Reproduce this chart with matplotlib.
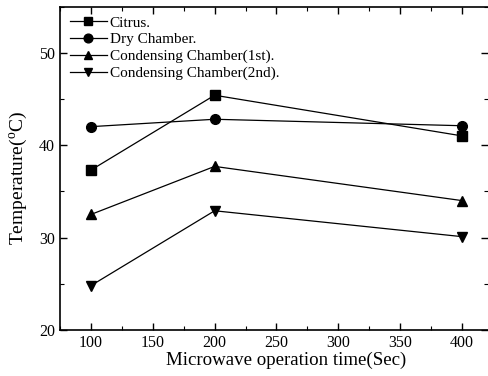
import matplotlib
matplotlib.use("Agg")
import matplotlib.pyplot as plt
from matplotlib.ticker import MultipleLocator

plt.rcParams['font.family'] = ['Liberation Serif', 'DejaVu Serif']
plt.rcParams['mathtext.fontset'] = 'custom'
plt.rcParams['mathtext.rm'] = 'Liberation Serif'

time = [100, 200, 400]
citrus = [37.3, 45.4, 41.0]
dry = [42.0, 42.8, 42.1]
cond1 = [32.5, 37.7, 34.0]
cond2 = [24.8, 32.9, 30.1]

series = [
	(citrus, 's', 'Citrus.'),
	(dry, 'o', 'Dry Chamber.'),
	(cond1, '^', 'Condensing Chamber(1st).'),
	(cond2, 'v', 'Condensing Chamber(2nd).'),
]

fig = plt.figure(figsize=(4.89, 3.76), dpi=100)
ax = fig.add_axes([60/489, 1-330/376, 428/489, 323.5/376])

for vals, m, lab in series:
	ax.plot(time, vals, color='black', lw=0.9, marker=m, markersize=7, label=lab)

ax.set_xlim(75, 421)
ax.set_ylim(20, 55)
ax.xaxis.set_major_locator(MultipleLocator(50))
ax.xaxis.set_minor_locator(MultipleLocator(25))
ax.yaxis.set_major_locator(MultipleLocator(10))
ax.yaxis.set_minor_locator(MultipleLocator(5))
ax.tick_params(which='both', direction='in', top=True, right=True, labelsize=11.5)
ax.tick_params(which='major', length=5, width=1)
ax.tick_params(which='minor', length=3, width=0.8)
for s in ['left', 'bottom', 'top']:
	ax.spines[s].set_linewidth(1.2)
ax.spines['right'].set_visible(False)

ax.set_xlabel("Microwave operation time(Sec)", fontsize=13.6)
ax.set_ylabel(r"Temperature($^\mathrm{o}$C)", fontsize=14)
ax.xaxis.set_label_coords((286.5-60)/428, -(352-330)/323.5)
ax.yaxis.set_label_coords((30-60)/428, (330-177.5)/323.5)

ax.legend(loc='upper left', bbox_to_anchor=((70-60)/428, (330-16)/323.5),
	frameon=False, fontsize=11, handlelength=2.4, markerscale=0.9,
	handletextpad=0.2, labelspacing=0.2, borderaxespad=0, borderpad=0)

fig.savefig("out.png", dpi=100)
